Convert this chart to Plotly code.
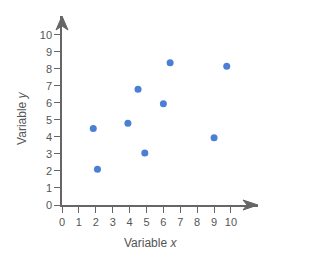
import plotly.graph_objects as go

x_vals = [1.85, 2.1, 3.9, 4.5, 4.9, 6.0, 6.4, 9.0, 9.75]
y_vals = [4.5, 2.1, 4.8, 6.8, 3.05, 5.95, 8.35, 3.95, 8.15]
tick_vals = list(range(0, 11))
x_title = "Variable <i>x</i>"
y_title = "Variable <i>y</i>"

W, H = 324, 262
ML, MR, MT, MB = 62, 66, 16, 57
X_MAX = 11.6
Y_MAX = 11.1
axis_col = "#666666"
text_col = "#555555"

PW = W - ML - MR
PH = H - MT - MB

fig = go.Figure()
fig.add_trace(go.Scatter(x=x_vals, y=y_vals, mode="markers",
                         marker=dict(size=7, color="#4a7fd4"), hoverinfo="skip"))

common = dict(showgrid=False, zeroline=False, showline=True, linecolor=axis_col, linewidth=1.5,
              ticks="outside", ticklen=6, tickcolor=axis_col, tickwidth=1,
              tickvals=tick_vals, tickfont=dict(family="Liberation Sans, Arial", size=11, color=text_col))
fig.update_xaxes(range=[0, X_MAX], **common)
fig.update_yaxes(range=[0, Y_MAX], **common)

def px(p):
    return p / PW

def py(p):
    return p / PH

# arrowheads (decorative, paper coords so they are not clipped)
xa = (f"M 1 0 L {1 - px(15)} {py(5)} L {1 - px(11)} 0 "
      f"L {1 - px(15)} {-py(5)} Z")
fig.add_shape(type="path", xref="paper", yref="paper", path=xa,
              fillcolor=axis_col, line=dict(color=axis_col, width=1))
ya = (f"M 0 1 L {px(6)} {1 - py(14)} L 0 {1 - py(10)} "
      f"L {-px(6)} {1 - py(14)} Z")
fig.add_shape(type="path", xref="paper", yref="paper", path=ya,
              fillcolor=axis_col, line=dict(color=axis_col, width=1))

fig.add_annotation(text=x_title, xref="paper", yref="paper", x=0.45, y=-0.2,
                   xanchor="center", yanchor="middle", showarrow=False,
                   font=dict(family="Liberation Sans, Arial", size=12, color=text_col))
fig.add_annotation(text=y_title, xref="paper", yref="paper", x=-0.205, y=0.46,
                   xanchor="center", yanchor="middle", showarrow=False, textangle=-90,
                   font=dict(family="Liberation Sans, Arial", size=12, color=text_col))

fig.update_layout(width=W, height=H, margin=dict(l=ML, r=MR, t=MT, b=MB),
                  plot_bgcolor="white", paper_bgcolor="white", showlegend=False)
fig.write_html("out.html")
